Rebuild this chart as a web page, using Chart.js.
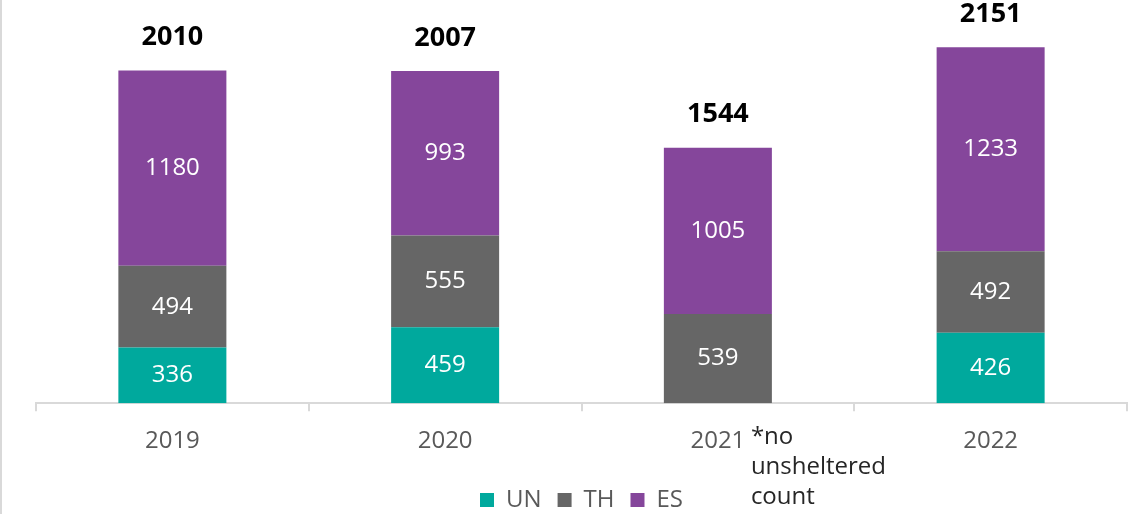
<!DOCTYPE html>
<html>
<head>
<meta charset="utf-8">
<script src="https://cdn.jsdelivr.net/npm/chart.js@4/dist/chart.umd.min.js"></script>
<style>
    html, body { margin: 0; padding: 0; background: #fff; }
    #wrap { position: relative; width: 1137px; height: 514px; box-sizing: border-box; border-left: 2px solid #d9d9d9; }
</style>
</head>
<body>
<div id="wrap"><canvas id="chart"></canvas></div>
<script>
// Data
const years = ["2019", "2020", "2021", "2022"];
const unValues = [336, 459, 0, 426];
const thValues = [494, 555, 539, 492];
const esValues = [1180, 993, 1005, 1233];
const noteLines = ["*no", "unsheltered", "count"];

const FONT = "'Open Sans', 'DejaVu Sans', sans-serif";

// labels inside segments + totals on top
const labelPlugin = {
    id: "labels",
    afterDatasetsDraw(chart) {
        const ctx = chart.ctx;
        ctx.save();
        ctx.textAlign = "center";
        ctx.textBaseline = "middle";

        chart.data.datasets.forEach((ds, i) => {
            const meta = chart.getDatasetMeta(i);
            meta.data.forEach((bar, j) => {
                const v = ds.data[j];
                if (!v) return;
                ctx.fillStyle = "#ffffff";
                ctx.font = "24px " + FONT;
                ctx.fillText(String(v), bar.x, (bar.y + bar.base) / 2);
            });
        });

        const y = chart.scales.y;
        const x = chart.scales.x;
        years.forEach((yr, j) => {
            const total = unValues[j] + thValues[j] + esValues[j];
            ctx.fillStyle = "#000000";
            ctx.font = "bold 27px " + FONT;
            ctx.fillText(String(total), x.getPixelForValue(j), y.getPixelForValue(total) - 33);
        });

        // note under 2021
        ctx.textAlign = "left";
        ctx.fillStyle = "#262626";
        ctx.font = "24px " + FONT;
        const nx = x.getPixelForValue(2) + 33;
        noteLines.forEach((t, k) => {
            ctx.fillText(t, nx, 437 + k * 30);
        });
        ctx.restore();
    }
};

new Chart(document.getElementById("chart"), {
    type: "bar",
    data: {
        labels: years,
        datasets: [
            { label: "UN", data: unValues, backgroundColor: "#00a99d" },
            { label: "TH", data: thValues, backgroundColor: "#666666" },
            { label: "ES", data: esValues, backgroundColor: "#85469b" }
        ]
    },
    options: {
        responsive: true,
        maintainAspectRatio: false,
        animation: false,
        layout: { padding: { left: 34, right: 10, top: 6, bottom: -8 } },
        datasets: { bar: { categoryPercentage: 1, barPercentage: 0.396 } },
        scales: {
            x: {
                stacked: true,
                grid: { offset: true, drawOnChartArea: false, drawTicks: true, tickLength: 8, color: "#d9d9d9", lineWidth: 2 },
                border: { color: "#d9d9d9", width: 2 },
                ticks: { color: "#595959", font: { family: FONT, size: 24 }, padding: 16 }
            },
            y: { stacked: true, display: false, min: 0, max: 2400 }
        },
        plugins: {
            legend: {
                position: "bottom",
                labels: {
                    boxWidth: 14, boxHeight: 14, padding: 16,
                    color: "#595959",
                    font: { family: FONT, size: 24 }
                }
            },
            tooltip: { enabled: false }
        }
    },
    plugins: [labelPlugin]
});
</script>
</body>
</html>
